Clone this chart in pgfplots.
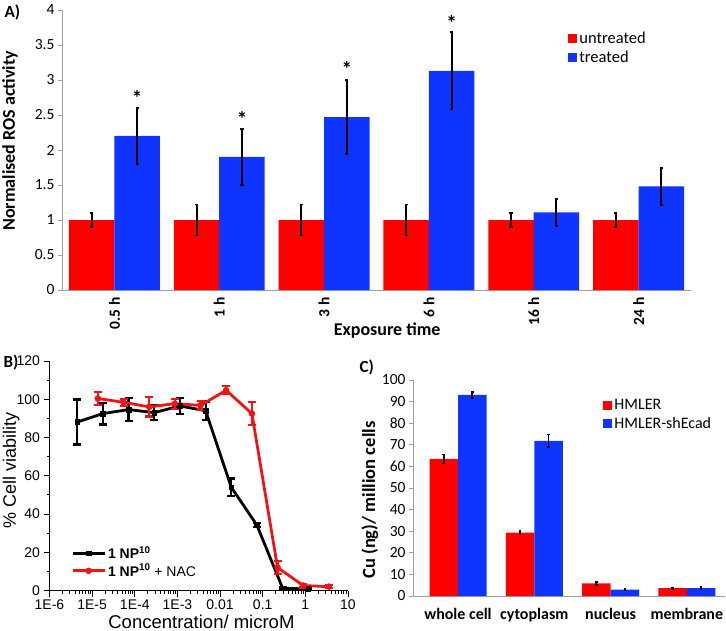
\documentclass[border=0pt]{standalone}
\usepackage{fontspec}
\setmainfont{Carlito}
\newfontfamily\arialfont{Liberation Sans}
\usepackage{pgfplots}
\pgfplotsset{compat=1.18}
\definecolor{barred}{RGB}{255,0,0}
\definecolor{barblue}{RGB}{16,52,255}
\definecolor{axgray}{RGB}{160,160,160}
\definecolor{linered}{RGB}{240,20,20}

\pgfplotstableread{
x y ey
4.47e-6 88.1 11.8
1.79e-5 92.5 5.7
7.15e-5 94.6 5.9
2.86e-4 93.0 3.7
1.14e-3 96.5 4.2
4.58e-3 94.0 4.8
1.83e-2 54.0 4.6
7.3e-2 34.2 1.2
0.293 1.2 0.5
1.17 0.8 0.3
}\blackdata
\pgfplotstableread{
x y ey
1.36e-5 100.4 3.4
5.45e-5 98.4 1.9
2.18e-4 96.0 5.0
8.7e-4 97.7 2.6
3.49e-3 96.8 2.2
1.39e-2 104.7 2.1
5.58e-2 92.5 6.1
0.223 12.0 3.5
0.893 2.6 1.0
3.57 2.0 0.8
}\reddata

\begin{document}
\begin{tikzpicture}
\path[use as bounding box] (0pt,0pt) rectangle (726pt,-631pt);

% ---------------- Panel A ----------------
\begin{axis}[
  at={(62pt,-290pt)}, anchor=south west, scale only axis,
  width=629pt, height=280pt,
  xmin=-0.5, xmax=5.5, ymin=0, ymax=4,
  ytick={0,0.5,...,4},
  xtick={0,...,5}, xticklabels={0.5 h,1 h,3 h,6 h,16 h,24 h},
  axis x line*=bottom, axis y line*=left,
  axis line style={axgray, line width=0.8pt, -},
  tick align=outside, major tick length=4pt,
  ytick style={axgray, line width=0.8pt},
  xtick style={draw=none},
  /pgf/number format/assume math mode=true,
  yticklabel style={font=\fontsize{15.5}{18}\selectfont},
  xticklabel style={font=\fontsize{15.5}{18}\selectfont\bfseries, rotate=90, anchor=east},
  ylabel={Normalised ROS activity},
  ylabel style={font=\fontsize{18}{21}\selectfont\bfseries, at={(axis description cs:-0.0827,0.532)}, anchor=center},
  xlabel={Exposure time},
  xlabel style={font=\fontsize{18}{21}\selectfont\bfseries, at={(axis description cs:0.517,-0.146)}, anchor=center},
  legend style={at={(0.80,0.935)}, anchor=north west, draw=none, fill=none,
    font=\fontsize{16.5}{19}\selectfont, row sep=2pt},
  legend cell align=left,
]
\addplot[ybar, bar width=45.5pt, bar shift=0pt, fill=barred, draw=none,
  legend image code/.code={\fill[barred] (0pt,-4.5pt) rectangle (9pt,4.5pt);},
  error bars/.cd, y dir=both, y explicit,
  error bar style={black, line width=2pt},
  error mark options={black, line width=1.8pt, mark size=1.6pt, rotate=90}]
coordinates {(-0.217,1) +- (0,0.1) (0.783,1) +- (0,0.22) (1.783,1) +- (0,0.22) (2.783,1) +- (0,0.22) (3.783,1) +- (0,0.1) (4.783,1) +- (0,0.1)};
\addlegendentry{untreated}
\addplot[ybar, bar width=45.5pt, bar shift=0pt, fill=barblue, draw=none,
  legend image code/.code={\fill[barblue] (0pt,-4.5pt) rectangle (9pt,4.5pt);},
  error bars/.cd, y dir=both, y explicit,
  error bar style={black, line width=2pt},
  error mark options={black, line width=1.8pt, mark size=1.6pt, rotate=90}]
coordinates {(0.217,2.2) +- (0,0.4) (1.217,1.9) +- (0,0.4) (2.217,2.47) +- (0,0.53) (3.217,3.13) +- (0,0.55) (4.217,1.11) +- (0,0.19) (5.217,1.48) +- (0,0.265)};
\addlegendentry{treated}
\node[font=\fontsize{21}{24}\selectfont\bfseries, anchor=base] at (axis cs:0.217,2.64) {*};
\node[font=\fontsize{21}{24}\selectfont\bfseries, anchor=base] at (axis cs:1.217,2.34) {*};
\node[font=\fontsize{21}{24}\selectfont\bfseries, anchor=base] at (axis cs:2.217,3.05) {*};
\node[font=\fontsize{21}{24}\selectfont\bfseries, anchor=base] at (axis cs:3.217,3.71) {*};
\end{axis}

% ---------------- Panel B ----------------
\begin{axis}[
  at={(49.5pt,-590.5pt)}, anchor=south west, scale only axis,
  width=298.5pt, height=229.5pt,
  xmode=log, xmin=1e-6, xmax=10, ymin=0, ymax=120,
  xtick={1e-6,1e-5,1e-4,1e-3,1e-2,1e-1,1,10},
  xticklabels={1E-6,1E-5,1E-4,1E-3,0.01,0.1,1,10},
  ytick={0,20,...,120}, minor y tick num=1,
  axis x line*=bottom, axis y line*=left,
  axis line style={black, line width=1pt, -},
  tick align=outside, major tick length=6pt, minor tick length=3pt,
  every tick/.style={black, line width=0.8pt},
  /pgf/number format/assume math mode=true,
  ticklabel style={font=\arialfont\fontsize{14}{16}\selectfont},
  ylabel={\% Cell viability},
  ylabel style={font=\arialfont\fontsize{18}{21}\selectfont, at={(axis description cs:-0.128,0.525)}, anchor=center},
  xlabel={Concentration/ microM},
  xlabel style={font=\arialfont\fontsize{18.5}{21}\selectfont, at={(axis description cs:0.509,-0.137)}, anchor=center},
  legend style={at={(0.062,0.21)}, anchor=north west, draw=none, fill=none,
    font=\arialfont\fontsize{14}{16}\selectfont, row sep=0pt},
  legend cell align=left,
  legend image code/.code={\draw[mark repeat=2,mark phase=2,#1] plot coordinates {(0pt,0pt) (16pt,0pt) (32pt,0pt)};},
]
\addplot[black, line width=2.8pt, mark=square*, mark size=2.4pt, mark options={solid, line width=0.5pt},
  error bars/.cd, y dir=both, y explicit,
  error bar style={black, line width=2.2pt},
  error mark options={black, line width=2.2pt, mark size=4pt, rotate=90}]
table[x=x, y=y, y error=ey] {\blackdata};
\addlegendentry{\textbf{1 NP\textsuperscript{10}}}
\addplot[linered, line width=2.8pt, mark=*, mark size=3pt, mark options={solid, line width=0.5pt},
  error bars/.cd, y dir=both, y explicit,
  error bar style={linered, line width=2.2pt},
  error mark options={linered, line width=2.2pt, mark size=4pt, rotate=90}]
table[x=x, y=y, y error=ey] {\reddata};
\addlegendentry{\textbf{1 NP\textsuperscript{10}} + NAC}
\end{axis}

% ---------------- Panel C ----------------
\begin{axis}[
  at={(413pt,-596pt)}, anchor=south west, scale only axis,
  width=312pt, height=216pt,
  xmin=-0.59, xmax=3.5, ymin=0, ymax=100,
  ytick={0,10,...,100},
  xtick={0,...,3}, xticklabels={whole cell,cytoplasm,nucleus,membrane},
  axis x line*=bottom, axis y line*=left,
  axis line style={axgray, line width=0.8pt, -},
  tick align=outside, major tick length=4pt,
  ytick style={axgray, line width=0.8pt},
  xtick style={draw=none},
  /pgf/number format/assume math mode=true,
  yticklabel style={font=\fontsize{15.5}{18}\selectfont},
  xticklabel style={font=\fontsize{16}{19}\selectfont\bfseries, yshift=-5pt},
  ylabel={Cu (ng)/ million cells},
  ylabel style={font=\fontsize{18.5}{21}\selectfont\bfseries, at={(axis description cs:-0.138,0.444)}, anchor=center},
  legend style={at={(0.6,0.93)}, anchor=north west, draw=none, fill=none,
    font=\fontsize{16}{19}\selectfont, row sep=2pt},
  legend cell align=left,
]
\addplot[ybar, bar width=28.5pt, bar shift=0pt, fill=barred, draw=none,
  legend image code/.code={\fill[barred] (0pt,-4.5pt) rectangle (9pt,4.5pt);},
  error bars/.cd, y dir=both, y explicit,
  error bar style={black, line width=1.8pt},
  error mark options={black, line width=1.6pt, mark size=1.3pt, rotate=90}]
coordinates {(-0.1868,63.5) +- (0,2.1) (0.8132,29.3) +- (0,0.8) (1.8132,5.9) +- (0,0.7) (2.8132,3.6) +- (0,0.4)};
\addlegendentry{HMLER}
\addplot[ybar, bar width=28.5pt, bar shift=0pt, fill=barblue, draw=none,
  legend image code/.code={\fill[barblue] (0pt,-4.5pt) rectangle (9pt,4.5pt);},
  error bars/.cd, y dir=both, y explicit,
  error bar style={black, line width=1.8pt},
  error mark options={black, line width=1.6pt, mark size=1.3pt, rotate=90}]
coordinates {(0.1868,93.1) +- (0,1.4) (1.1868,71.8) +- (0,2.9) (2.1868,2.9) +- (0,0.4) (3.1868,3.6) +- (0,0.5)};
\addlegendentry{HMLER-shEcad}
\end{axis}

% panel letters
\node[anchor=west, font=\fontsize{17}{20}\selectfont\bfseries] at (1pt,-12pt) {A)};
\node[anchor=west, font=\fontsize{17}{20}\selectfont\bfseries] at (0pt,-362pt) {B)};
\node[anchor=west, font=\fontsize{17}{20}\selectfont\bfseries] at (356pt,-367pt) {C)};
\end{tikzpicture}
\end{document}
